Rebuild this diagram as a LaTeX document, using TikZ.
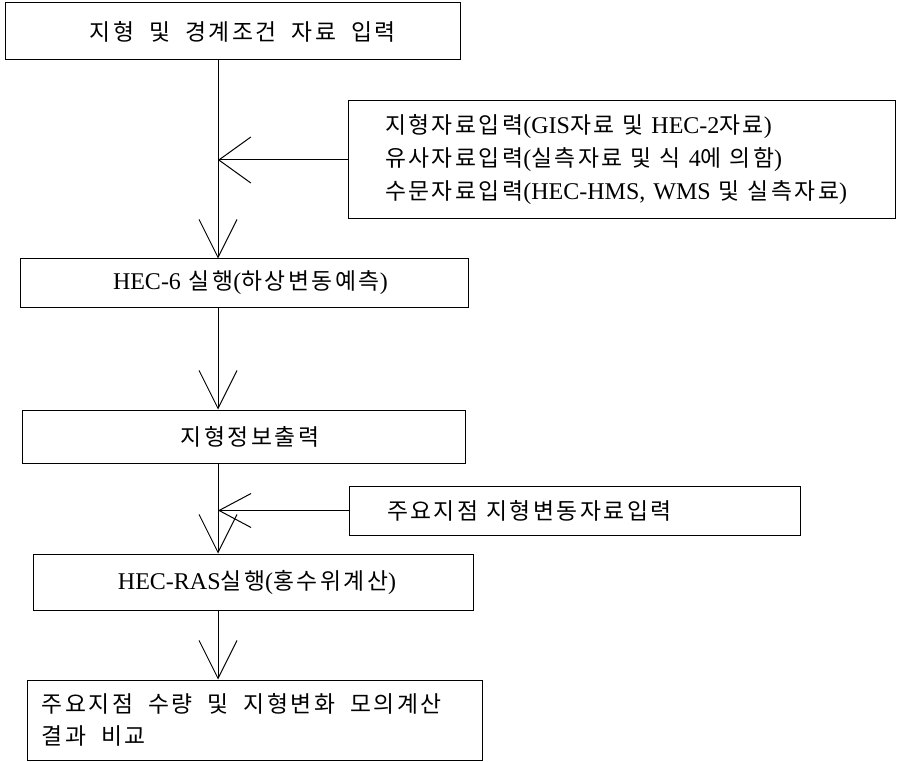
\documentclass[tikz,border=0pt]{standalone}
\usepackage{fontspec}
\setmainfont{Liberation Serif}
\newfontfamily\krfont[Scale=0.95,LetterSpace=11]{Noto Sans CJK KR}
\newcommand{\kr}[1]{{\krfont #1}}
\newcommand{\ind}[1]{\hspace*{#1pt}}
\newcommand{\esp}{\hspace{15pt}}
\usetikzlibrary{arrows.meta}

\begin{document}
\begin{tikzpicture}[x=1pt, y=-1pt,
  boite/.style={draw, line width=1pt, inner xsep=0pt, inner ysep=0pt, align=left, font=\fontsize{24}{32}\selectfont},
  fleche/.style={line width=1pt, -{Straight Barb[length=38pt, width=38pt]}},
  entree/.style={line width=1pt, -{Straight Barb[length=32pt, width=#1]}},
  entree/.default=40pt]

\useasboundingbox (0,0) rectangle (897,762);

% Etapes principales
\node[boite, text width=455pt, minimum height=57pt] (b1) at (232.5,31.5) {\ind{85}\kr{지형\esp 및\esp 경계조건\esp 자료\esp 입력}};
\node[boite, text width=448pt, minimum height=48pt] (b2) at (244,283) {\ind{93}HEC-6 \kr{실행}(\kr{하상변동예측})};
\node[boite, text width=443pt, minimum height=53pt] (b3) at (243.5,436.5) {\ind{159}\kr{지형정보출력}};
\node[boite, text width=440pt, minimum height=56pt] (b4) at (253,582) {\ind{85}HEC-RAS\kr{실행}(\kr{홍수위계산})};
\node[boite, text width=455pt, minimum height=80pt] (b5) at (254.5,720) {\ind{15}\mbox{\kr{주요지점\esp 수량\esp 및\esp 지형변화\esp 모의계산}}\\\ind{15}\kr{결과\esp 비교}};

% Donnees d'entree
\node[boite, text width=547pt, minimum height=118pt, font=\fontsize{24}{33}\selectfont] (d1) at (621.5,160) {\ind{37}\kr{지형자료입력}(GIS\kr{자료 및} HEC-2\kr{자료})\\
\ind{37}\kr{유사자료입력}(\kr{실측자료 및 식} 4\kr{에 의함})\\
\ind{37}\kr{수문자료입력}(HEC-HMS, WMS \kr{및 실측자료})};
\node[boite, text width=451pt, minimum height=49pt] (d2) at (574.5,510.5) {\ind{38}\kr{주요지점 지형변동자료입력}};

% Axe vertical
\coordinate (axe) at (218,0);

\draw[fleche] (b1.south -| axe) -- (b2.north -| axe);
\draw[fleche] (b2.south -| axe) -- (b3.north -| axe);
\draw[fleche] (b3.south -| axe) -- (b4.north -| axe);
\draw[fleche] (b4.south -| axe) -- (b5.north -| axe);

% Arcs d'entree
\draw[entree=46pt] (d1.west) -- (d1.west -| axe);
\draw[entree=34pt] (d2.west) -- (d2.west -| axe);

\end{tikzpicture}
\end{document}
